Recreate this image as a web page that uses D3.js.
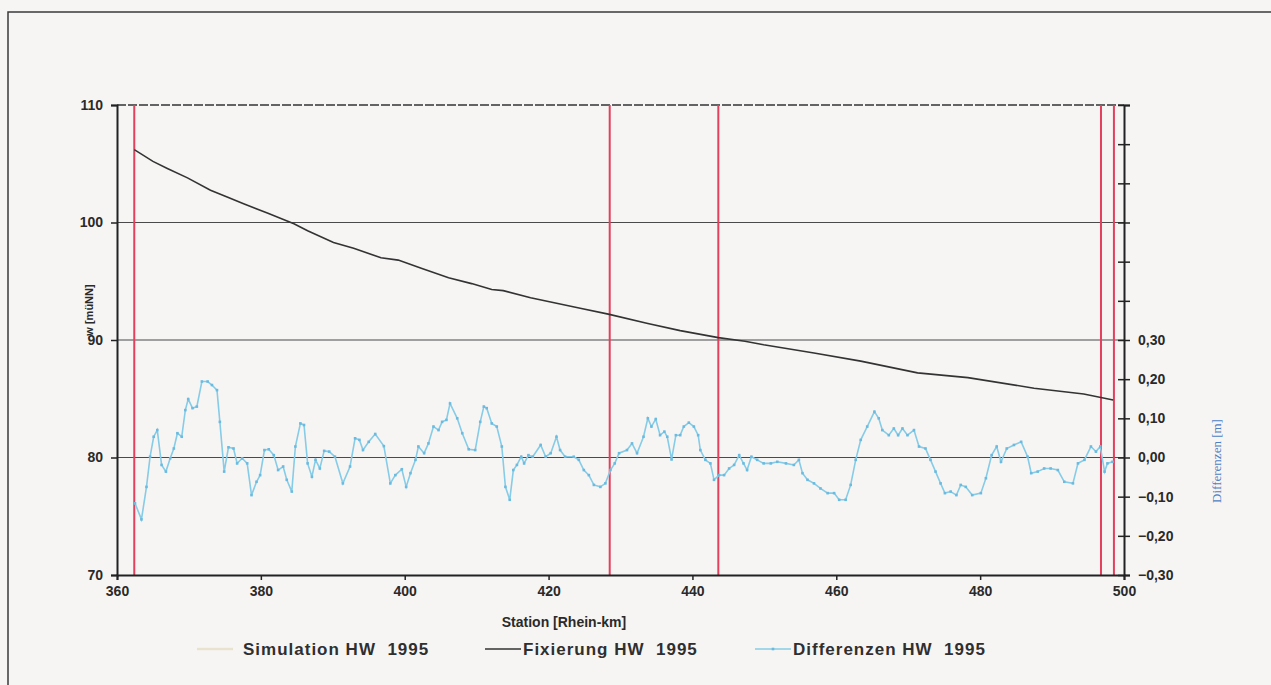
<!DOCTYPE html>
<html>
<head>
  <meta charset="utf-8" />
  <script src="https://d3js.org/d3.v7.min.js"></script>
</head>
<body style="margin: 0; background: #f7f5f4">
<script>

// --- data ---
let xTicks = [360, 380, 400, 420, 440, 460, 480, 500]
let leftTicks = [70, 80, 90, 100, 110]
let rightTicks = [-0.3, -0.2, -0.1, 0, 0.1, 0.2, 0.3, 0.4, 0.5, 0.6, 0.7, 0.8, 0.9]
let rightLabelled = [-0.3, -0.2, -0.1, 0, 0.1, 0.2, 0.3]

// red marker stations (Rhein-km)
let markerKm = [362.4, 428.5, 443.6, 496.8, 498.6]

// Fixierung HW 1995  [m uNN]
let fixKm  = [362.4, 365.0, 367.0, 369.8, 373.0, 375.4, 377.6, 380.9, 384.6, 386.5, 390.1, 392.9, 396.7, 399.1,
              402.3, 406.1, 409.3, 412.1, 413.7, 417.5, 424.4, 428.3, 433.8, 438.3, 443.6, 447.3, 449.9, 456.9,
              463.4, 471.3, 478.3, 487.5, 494.4, 498.5]
let fixVal = [106.2, 105.2, 104.6, 103.8, 102.75, 102.15, 101.6, 100.8, 99.9, 99.3, 98.3, 97.8, 97.0, 96.8,
              96.1, 95.3, 94.8, 94.3, 94.2, 93.6, 92.7, 92.2, 91.4, 90.8, 90.2, 89.9, 89.6, 88.9,
              88.2, 87.2, 86.8, 85.9, 85.4, 84.9]

// Differenzen HW 1995 [m]
let diffKm = [362.5, 363.4, 364.1, 364.6, 365.1, 365.6, 366.2, 366.8, 367.4, 367.9, 368.4, 369.0, 369.5, 369.9,
              370.5, 371.1, 371.8, 372.6, 373.2, 373.9, 374.3, 374.9, 375.5, 376.2, 376.7, 377.4, 378.1, 378.7,
              379.4, 379.9, 380.5, 381.1, 381.8, 382.4, 383.1, 383.6, 384.3, 384.8, 385.5, 386.0, 386.5, 387.1,
              387.6, 388.2, 388.8, 389.5, 390.3, 391.4, 392.4, 393.1, 393.7, 394.2, 395.0, 395.9, 397.1, 398.0,
              398.7, 399.6, 400.2, 400.8, 401.5, 401.9, 402.7, 403.3, 404.0, 404.7, 405.2, 405.8, 406.3, 407.3,
              408.0, 408.9, 409.8, 410.5, 411.0, 411.4, 412.1, 412.8, 413.5, 414.0, 414.6, 415.1, 415.6, 416.2,
              416.6, 417.2, 417.8, 418.9, 419.6, 420.3, 421.1, 421.6, 422.3, 423.5, 424.2, 424.9, 425.6, 426.3,
              427.2, 427.9, 428.6, 429.2, 429.8, 430.9, 431.6, 432.3, 433.2, 433.8, 434.3, 434.9, 435.5, 436.1,
              436.5, 437.1, 437.7, 438.3, 438.8, 439.5, 440.2, 440.8, 441.1, 441.8, 442.5, 443.0, 443.7, 444.4,
              445.1, 445.8, 446.5, 447.1, 447.6, 448.2, 449.0, 449.9, 450.9, 451.8, 453.0, 454.1, 454.8, 455.3,
              456.0, 456.9, 457.8, 458.8, 459.7, 460.4, 461.3, 462.0, 462.7, 463.4, 464.3, 465.3, 465.9, 466.4,
              467.3, 468.0, 468.6, 469.2, 469.9, 470.8, 471.5, 472.4, 473.1, 473.8, 474.5, 475.1, 475.9, 476.7,
              477.3, 478.0, 478.9, 480.1, 480.8, 481.6, 482.3, 482.9, 483.7, 484.7, 485.7, 486.6, 487.1, 488.0,
              488.9, 489.8, 490.8, 491.7, 492.9, 493.6, 494.5, 495.4, 496.1, 496.7, 497.3, 497.7, 498.4]
let diffVal = [-0.117, -0.158, -0.075, 0.002, 0.053, 0.070, -0.019, -0.036, -0.002, 0.023, 0.062, 0.053, 0.121, 0.149,
               0.126, 0.130, 0.194, 0.194, 0.185, 0.172, 0.091, -0.036, 0.026, 0.023, -0.015, -0.002, -0.015, -0.096,
               -0.062, -0.045, 0.019, 0.021, 0.006, -0.032, -0.023, -0.057, -0.087, 0.028, 0.087, 0.083, -0.015, -0.049,
               -0.006, -0.028, 0.017, 0.015, 0.002, -0.066, -0.023, 0.049, 0.045, 0.019, 0.040, 0.060, 0.029, -0.066,
               -0.045, -0.030, -0.075, -0.040, -0.006, 0.028, 0.011, 0.036, 0.079, 0.070, 0.091, 0.096, 0.138, 0.100,
               0.062, 0.021, 0.019, 0.091, 0.130, 0.126, 0.087, 0.079, 0.028, -0.075, -0.108, -0.032, -0.019, 0.002,
               -0.015, 0.006, 0.002, 0.032, 0.002, 0.011, 0.053, 0.019, 0.002, 0.002, -0.006, -0.032, -0.045, -0.070,
               -0.075, -0.066, -0.032, -0.015, 0.011, 0.019, 0.036, 0.011, 0.053, 0.100, 0.079, 0.098, 0.057, 0.066,
               0.053, -0.005, 0.057, 0.057, 0.079, 0.089, 0.079, 0.057, 0.019, -0.006, -0.015, -0.057, -0.045, -0.045,
               -0.028, -0.019, 0.006, -0.015, -0.032, 0.002, -0.006, -0.015, -0.015, -0.011, -0.015, -0.019, -0.006, -0.040,
               -0.057, -0.066, -0.079, -0.091, -0.091, -0.108, -0.108, -0.070, -0.006, 0.045, 0.079, 0.117, 0.100, 0.070,
               0.057, 0.074, 0.057, 0.074, 0.057, 0.070, 0.028, 0.023, -0.006, -0.036, -0.066, -0.091, -0.087, -0.096,
               -0.070, -0.075, -0.096, -0.091, -0.053, 0.006, 0.028, -0.011, 0.023, 0.032, 0.040, 0.002, -0.040, -0.036,
               -0.028, -0.028, -0.032, -0.062, -0.066, -0.015, -0.006, 0.028, 0.015, 0.028, -0.036, -0.015, -0.011]

let legendNames = ['Simulation HW 1995', 'Fixierung HW 1995', 'Differenzen HW 1995']
let legendColors = ['#e9e2cf', '#333333', '#86cce6']

// --- layout ---
let W = 1271, H = 685
let plotL = 117, plotR = 1124, plotT = 105, plotB = 575

let svg = d3.select("body").append("svg")
            .attr("width", W)
            .attr("height", H)
            .style("display", "block")
            .style("background", "#f7f5f4")

let x = d3.scaleLinear().domain([360, 500]).range([plotL, plotR])
let yL = d3.scaleLinear().domain([70, 110]).range([plotB, plotT])
let yR = d3.scaleLinear().domain([-0.3, 0.9]).range([plotB, plotT])

let boldFont = "'Liberation Sans', Arial, sans-serif"
let narrowFont = "'Liberation Sans Narrow', 'Arial Narrow', 'Liberation Sans', sans-serif"

// outer frame of the scanned page
svg.append("path")
   .attr("d", `M8,${H} L8,12 L${W},12`)
   .attr("fill", "none")
   .attr("stroke", "#3a3a3a")
   .attr("stroke-width", 1.5)

// gridlines
svg.append("g").selectAll("line")
   .data([80, 90, 100])
   .enter().append("line")
   .attr("x1", plotL).attr("x2", plotR)
   .attr("y1", d => yL(d)).attr("y2", d => yL(d))
   .attr("stroke", "#4a4a4a")
   .attr("stroke-width", 1.2)

svg.append("line")
   .attr("x1", plotL).attr("x2", plotR)
   .attr("y1", yL(110)).attr("y2", yL(110))
   .attr("stroke", "#333")
   .attr("stroke-width", 1.6)
   .attr("stroke-dasharray", "9,2")

// red station lines
svg.append("g").selectAll("line")
   .data(markerKm)
   .enter().append("line")
   .attr("x1", d => x(d)).attr("x2", d => x(d))
   .attr("y1", plotT).attr("y2", plotB)
   .attr("stroke", "#e2405c")
   .attr("stroke-width", 2)

// axes
let xAxis = svg.append("g")
   .attr("transform", `translate(0,${plotB})`)
   .call(d3.axisBottom(x).tickValues(xTicks).tickSize(5).tickPadding(6).tickFormat(d3.format("d")))

let lAxis = svg.append("g")
   .attr("transform", `translate(${plotL},0)`)
   .call(d3.axisLeft(yL).tickValues(leftTicks).tickSize(6).tickPadding(8).tickFormat(d3.format("d")))

let rAxis = svg.append("g")
   .attr("transform", `translate(${plotR},0)`)
   .call(d3.axisRight(yR).tickValues(rightTicks).tickSize(6).tickPadding(8)
     .tickFormat(d => rightLabelled.some(v => Math.abs(v - d) < 1e-9) ? d3.format(".2f")(d).replace(".", ",") : ""))

rAxis.selectAll(".tick line").attr("x1", -6)

;[xAxis, lAxis, rAxis].forEach(a => {
  a.select(".domain").attr("stroke", "#222").attr("stroke-width", 2)
  a.selectAll(".tick line").attr("stroke", "#222").attr("stroke-width", 1.5)
  a.selectAll("text")
   .attr("fill", "#2a2a2a")
   .style("font-family", boldFont)
   .style("font-weight", "bold")
   .style("font-size", "14px")
})

// Fixierung line
svg.append("path")
   .datum(d3.range(fixKm.length))
   .attr("fill", "none")
   .attr("stroke", "#333")
   .attr("stroke-width", 1.6)
   .attr("d", d3.line().x(i => x(fixKm[i])).y(i => yL(fixVal[i])))

// Differenzen line with small markers
svg.append("path")
   .datum(d3.range(diffKm.length))
   .attr("fill", "none")
   .attr("stroke", "#86cce6")
   .attr("stroke-width", 1.6)
   .attr("d", d3.line().x(i => x(diffKm[i])).y(i => yR(diffVal[i])))

svg.append("g").selectAll("rect")
   .data(d3.range(diffKm.length))
   .enter().append("rect")
   .attr("x", i => x(diffKm[i]) - 1.3)
   .attr("y", i => yR(diffVal[i]) - 1.3)
   .attr("width", 2.6).attr("height", 2.6)
   .attr("fill", "#6bbbe0")

// axis titles
svg.append("text")
   .attr("transform", "translate(93,310) rotate(-90)")
   .attr("text-anchor", "middle")
   .style("font-family", boldFont)
   .style("font-weight", "bold")
   .style("font-size", "11px")
   .attr("fill", "#2a2a2a")
   .text("w [müNN]")

svg.append("text")
   .attr("transform", "translate(1221,461) rotate(-90)")
   .attr("text-anchor", "middle")
   .style("font-family", "'Liberation Serif', 'Times New Roman', serif")
   .style("font-size", "13px")
   .attr("fill", "#4d7fc4")
   .text("Differenzen [m]")

svg.append("text")
   .attr("x", 564).attr("y", 627)
   .attr("text-anchor", "middle")
   .style("font-family", narrowFont)
   .style("font-weight", "bold")
   .style("font-size", "14px")
   .attr("fill", "#2a2a2a")
   .text("Station [Rhein-km]")

// legend
let legendX = [197, 485, 755]
let leg = svg.append("g").selectAll("g")
   .data(legendNames)
   .enter().append("g")
   .attr("transform", (d, i) => `translate(${legendX[i]},649)`)

leg.append("line")
   .attr("x1", 0).attr("x2", 36)
   .attr("stroke", (d, i) => legendColors[i])
   .attr("stroke-width", (d, i) => i == 0 ? 2.5 : 1.6)

leg.filter((d, i) => i == 2).append("rect")
   .attr("x", 16.7).attr("y", -1.3).attr("width", 2.6).attr("height", 2.6)
   .attr("fill", "#6bbbe0")

leg.append("text")
   .attr("x", (d, i) => i == 0 ? 46 : 38)
   .attr("y", 6)
   .attr("xml:space", "preserve")
   .style("white-space", "pre")
   .style("font-family", narrowFont)
   .style("font-weight", "bold")
   .style("font-size", "17px")
   .style("letter-spacing", "1px")
   .attr("fill", "#2f2f2f")
   .text(d => d.replace(" 1995", "  1995"))

</script>
</body>
</html>
